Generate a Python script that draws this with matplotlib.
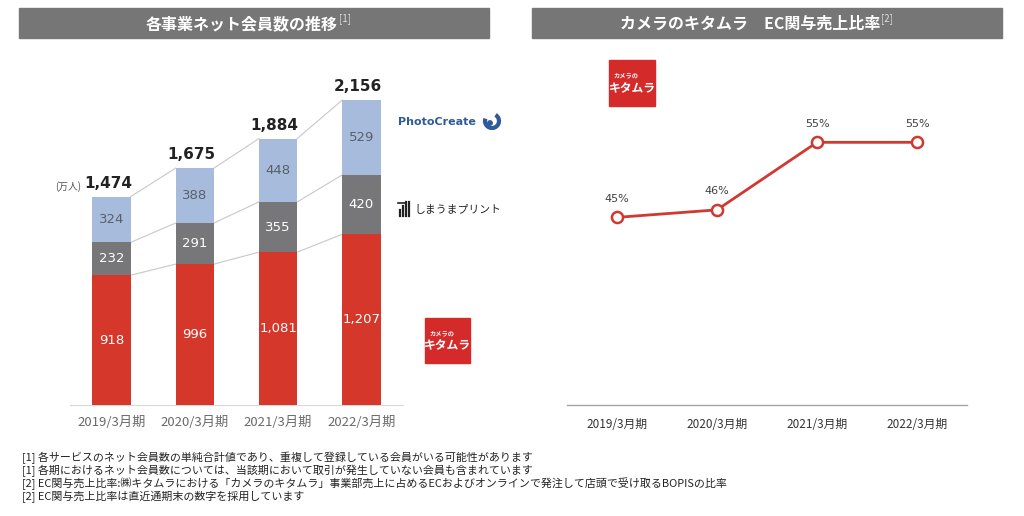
import matplotlib
matplotlib.use("Agg")
import matplotlib.pyplot as plt
from matplotlib.patches import Rectangle, Circle, Arc

plt.rcParams['font.family'] = ['DejaVu Sans', 'Noto Sans CJK JP']

# ---- data ----
periods = ["2019/3月期", "2020/3月期", "2021/3月期", "2022/3月期"]
kitamura = [918, 996, 1081, 1207]
shimauma = [232, 291, 355, 420]
photocreate = [324, 388, 448, 529]
totals = [1474, 1675, 1884, 2156]
ec_ratio = [45, 46, 55, 55]
ec_labels = ["45%", "46%", "55%", "55%"]
footnotes = [
    "[1] 各サービスのネット会員数の単純合計値であり、重複して登録している会員がいる可能性があります",
    "[1] 各期におけるネット会員数については、当該期において取引が発生していない会員も含まれています",
    "[2] EC関与売上比率:㈱キタムラにおける「カメラのキタムラ」事業部売上に占めるECおよびオンラインで発注して店頭で受け取るBOPISの比率",
    "[2] EC関与売上比率は直近通期末の数字を採用しています",
]

RED = "#D5382B"
GRAY = "#77777A"
BLUE = "#A7BCDD"
BAR_GRAY = "#767676"

W, H = 1024, 516
fig = plt.figure(figsize=(W / 100, H / 100), dpi=100)
fig.patch.set_facecolor("white")


def px(x0, y0, x1, y1):
    return [x0 / W, 1 - y1 / H, (x1 - x0) / W, (y1 - y0) / H]


# ---- title bars / overlay canvas ----
bg = fig.add_axes([0, 0, 1, 1], zorder=5)
bg.set_xlim(0, W)
bg.set_ylim(H, 0)
bg.axis("off")
bg.patch.set_visible(False)
bg.add_patch(Rectangle((19, 8), 470, 30, color=BAR_GRAY))
bg.add_patch(Rectangle((532, 8), 470, 30, color=BAR_GRAY))

jp = ['Noto Sans CJK JP', 'DejaVu Sans']
bg.text(338, 24, "各事業ネット会員数の推移", color="white", fontsize=11.5,
        fontweight="bold", ha="right", va="center", family=jp)
bg.text(339, 19, "[1]", color="#dddddd", fontsize=7, ha="left", va="center", family=jp)
bg.text(880, 24, "カメラのキタムラ　EC関与売上比率", color="white", fontsize=11.5,
        fontweight="bold", ha="right", va="center", family=jp)
bg.text(881, 19, "[2]", color="#dddddd", fontsize=7, ha="left", va="center", family=jp)

# footnotes
for i, t in enumerate(footnotes):
    bg.text(22, 458 + i * 13, t, fontsize=7.9, color="#222222", ha="left",
            va="center", family=jp)

# ---- left: stacked bars ----
ax = fig.add_axes(px(70, 50, 403, 405))
ax.patch.set_visible(False)
x = list(range(len(periods)))
bw = 0.46
ax.bar(x, kitamura, bw, color=RED, zorder=3)
ax.bar(x, shimauma, bw, bottom=kitamura, color=GRAY, zorder=3)
bottom3 = [a + b for a, b in zip(kitamura, shimauma)]
ax.bar(x, photocreate, bw, bottom=bottom3, color=BLUE, zorder=3)
ax.set_xlim(-0.5, 3.5)
ax.set_ylim(0, 2510)

# series lines
levels = [kitamura, bottom3, totals]
for lev in levels:
    for i in range(len(x) - 1):
        ax.plot([x[i] + bw / 2, x[i + 1] - bw / 2], [lev[i], lev[i + 1]],
                color="#c8c8c8", lw=0.8, zorder=2)

for i in x:
    ax.text(i, kitamura[i] / 2, f"{kitamura[i]:,}", color="white", fontsize=9.5,
            ha="center", va="center", zorder=4)
    ax.text(i, kitamura[i] + shimauma[i] / 2, f"{shimauma[i]:,}", color="white",
            fontsize=9.5, ha="center", va="center", zorder=4)
    ax.text(i, bottom3[i] + photocreate[i] / 2, f"{photocreate[i]:,}", color="#5a5f68",
            fontsize=9.5, ha="center", va="center", zorder=4)
    ax.text(i - 0.04, totals[i] + 40, f"{totals[i]:,}", color="#222222", fontsize=11,
            fontweight="bold", ha="center", va="bottom", zorder=4)

ax.text(-0.52, 1474 + 70, "(万人)", fontsize=7, color="#555555", ha="center",
        va="center", family=jp, clip_on=False)

ax.set_xticks(x)
ax.set_xticklabels(periods, fontsize=9.5, color="#6a6a6a", family=jp)
ax.tick_params(axis="x", length=0, pad=8)
ax.set_yticks([])
for s in ["top", "right", "left"]:
    ax.spines[s].set_visible(False)
ax.spines["bottom"].set_color("#d9d9d9")
ax.spines["bottom"].set_linewidth(0.8)

# ---- right: line chart ----
ax2 = fig.add_axes(px(567, 50, 967, 405))
ax2.patch.set_visible(False)
ax2.plot(x, ec_ratio, color="#D0392F", lw=2, marker="o", markersize=8,
         markerfacecolor="white", markeredgecolor="#D0392F", markeredgewidth=1.8,
         zorder=3)
for i in x:
    ax2.text(i, ec_ratio[i] + 1.8, ec_labels[i], fontsize=8, color="#404040",
             ha="center", va="bottom")
ax2.set_xlim(-0.5, 3.5)
ax2.set_ylim(20, 67.3)
ax2.set_xticks(x)
ax2.set_xticklabels(periods, fontsize=8.5, color="#333333", family=jp)
ax2.tick_params(axis="x", length=0, pad=9)
ax2.set_yticks([])
for s in ["top", "right", "left"]:
    ax2.spines[s].set_visible(False)
ax2.spines["bottom"].set_color("#a6a6a6")
ax2.spines["bottom"].set_linewidth(1)

# ---- logos (drawn) ----
def kitamura_logo(x0, y0, size):
    bg.add_patch(Rectangle((x0, y0), size, size, color="#D42A2A", zorder=2))
    bg.text(x0 + size * 0.1, y0 + size * 0.33, "カメラの", color="white",
            fontsize=4.5, fontstyle="italic", fontweight="bold", ha="left",
            va="center", family=jp, zorder=3)
    bg.text(x0 + size / 2, y0 + size * 0.62, "キタムラ", color="white",
            fontsize=8.5, fontweight="bold", ha="center", va="center",
            family=jp, zorder=3)

kitamura_logo(425, 318, 45)
kitamura_logo(609, 60, 46)

# PhotoCreate
bg.text(398, 122, "PhotoCreate", color="#2F5B9A", fontsize=8, fontweight="bold",
        ha="left", va="center")
bg.add_patch(Arc((492, 121), 14, 14, theta1=-60, theta2=200, color="#2F5B9A", lw=3))
bg.add_patch(Circle((490, 123), 2.2, color="#2F5B9A"))

# Shimauma print
for xx, hh in [(400, 6), (403, 10), (406, 14), (409, 14)]:
    bg.plot([xx, xx], [216, 216 - hh], color="#222222", lw=1.6)
bg.plot([398, 405], [203, 203], color="#222222", lw=1.2)
bg.text(414, 210, "しまうまプリント", color="#222222", fontsize=7.8, ha="left",
        va="center", family=jp)

fig.savefig("out.png", dpi=100)
